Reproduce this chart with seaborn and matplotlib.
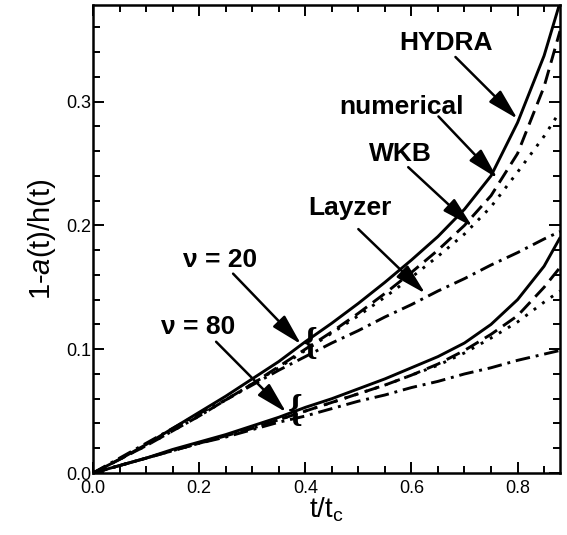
import numpy as np
import pandas as pd
import seaborn as sns
import matplotlib
matplotlib.use("Agg")
import matplotlib.pyplot as plt
from matplotlib.ticker import MultipleLocator, FormatStrFormatter

# abscisse commune t/tc
t = [0, 0.05, 0.1, 0.15, 0.2, 0.25, 0.3, 0.35, 0.4, 0.45, 0.5,
     0.55, 0.6, 0.65, 0.7, 0.75, 0.8, 0.85, 0.88]

# nu = 20
hydra_20 = [0, 0.011, 0.023, 0.036, 0.049, 0.062, 0.076, 0.090, 0.106, 0.121, 0.137,
            0.154, 0.172, 0.191, 0.213, 0.240, 0.283, 0.337, 0.380]
numerical_20 = [0, 0.011, 0.022, 0.034, 0.046, 0.059, 0.072, 0.086, 0.100, 0.114, 0.129,
                0.145, 0.162, 0.180, 0.200, 0.224, 0.258, 0.312, 0.357]
wkb_20 = [0, 0.011, 0.022, 0.034, 0.046, 0.059, 0.072, 0.085, 0.099, 0.113, 0.127,
          0.142, 0.158, 0.175, 0.193, 0.215, 0.243, 0.272, 0.292]
layzer_20 = [0, 0.012, 0.024, 0.036, 0.048, 0.059, 0.071, 0.083, 0.094, 0.105, 0.115,
             0.126, 0.136, 0.147, 0.157, 0.168, 0.178, 0.189, 0.195]

# nu = 80
hydra_80 = [0, 0.006, 0.012, 0.019, 0.025, 0.031, 0.038, 0.045, 0.053, 0.060, 0.068,
            0.076, 0.085, 0.094, 0.105, 0.120, 0.140, 0.167, 0.190]
numerical_80 = [0, 0.006, 0.012, 0.018, 0.024, 0.030, 0.036, 0.043, 0.050, 0.057, 0.064,
                0.071, 0.079, 0.088, 0.099, 0.112, 0.127, 0.150, 0.166]
wkb_80 = [0, 0.006, 0.012, 0.018, 0.024, 0.030, 0.036, 0.043, 0.050, 0.057, 0.064,
          0.071, 0.079, 0.087, 0.097, 0.109, 0.122, 0.138, 0.147]
layzer_80 = [0, 0.006, 0.012, 0.018, 0.024, 0.029, 0.035, 0.041, 0.046, 0.052, 0.058,
             0.063, 0.069, 0.074, 0.080, 0.085, 0.091, 0.096, 0.099]

curves = [
    (hydra_20, '-'), (numerical_20, (0, (5, 2.5))), (wkb_20, (0, (1, 2.6))), (layzer_20, (0, (5, 2, 1, 2))),
    (hydra_80, '-'), (numerical_80, (0, (5, 2.5))), (wkb_80, (0, (1, 2.6))), (layzer_80, (0, (5, 2, 1, 2))),
]

# libellés: (texte, position du texte, départ de la flèche, pointe de la flèche)
labels = [
    ('HYDRA', (0.666, 0.347), (0.683, 0.336), (0.800, 0.286)),
    ('numerical', (0.581, 0.296), (0.651, 0.288), (0.762, 0.238)),
    ('WKB', (0.579, 0.258), (0.594, 0.247), (0.715, 0.199)),
    ('Layzer', (0.485, 0.214), (0.500, 0.197), (0.626, 0.145)),
    ('ν = 20', (0.240, 0.172), (0.264, 0.161), (0.392, 0.104)),
    ('ν = 80', (0.198, 0.118), (0.232, 0.106), (0.364, 0.049)),
]
braces = [(0.410, 0.104), (0.381, 0.050)]

sns.set_style("ticks")
plt.rcParams['font.family'] = ['Liberation Sans', 'DejaVu Sans']
plt.rcParams['mathtext.fontset'] = 'custom'
plt.rcParams['mathtext.rm'] = 'Liberation Sans'
plt.rcParams['mathtext.it'] = 'Liberation Sans:italic'
for k in ['text.color', 'axes.labelcolor', 'xtick.color', 'ytick.color', 'axes.edgecolor']:
    plt.rcParams[k] = 'black'

fig = plt.figure(figsize=(5.67, 5.35), dpi=100)
ax = fig.add_axes([93 / 567, 62 / 535, 467 / 567, 468 / 535])

for y, ls in curves:
    sns.lineplot(x=t, y=y, color='black', linewidth=2.1, linestyle=ls, ax=ax, sort=False)

for txt, pos, start, tip in labels:
    ax.text(pos[0], pos[1], txt, ha='center', va='center', fontsize=19, fontweight='bold')
    ax.annotate('', xy=tip, xytext=start,
                arrowprops=dict(arrowstyle='-|>,head_length=0.95,head_width=0.25',
                                color='black', lw=1.8, mutation_scale=20,
                                shrinkA=0, shrinkB=0))

for bx, by in braces:
    ax.text(bx, by, '{', ha='center', va='center', fontsize=27, fontweight='bold',
            family='Liberation Serif')

ax.set_xlim(0, 0.88)
ax.set_ylim(0, 0.378)
ax.xaxis.set_major_locator(MultipleLocator(0.2))
ax.xaxis.set_minor_locator(MultipleLocator(0.05))
ax.yaxis.set_major_locator(MultipleLocator(0.1))
ax.yaxis.set_minor_locator(MultipleLocator(0.02))
ax.xaxis.set_major_formatter(FormatStrFormatter('%.1f'))
ax.yaxis.set_major_formatter(FormatStrFormatter('%.1f'))
ax.tick_params(which='both', direction='in', top=True, right=True, width=1.4, labelsize=13)
ax.tick_params(axis='y', pad=1)
ax.tick_params(axis='x', pad=5)
ax.tick_params(which='major', length=8)
ax.tick_params(which='minor', length=5)
for s in ax.spines.values():
    s.set_linewidth(1.8)

ax.set_xlabel('t/t$_\\mathrm{c}$', fontsize=20, labelpad=-1)
ax.set_ylabel('1-$\\mathit{a}$(t)/h(t)', fontsize=21, labelpad=6)

plt.savefig('out.png', dpi=100)
